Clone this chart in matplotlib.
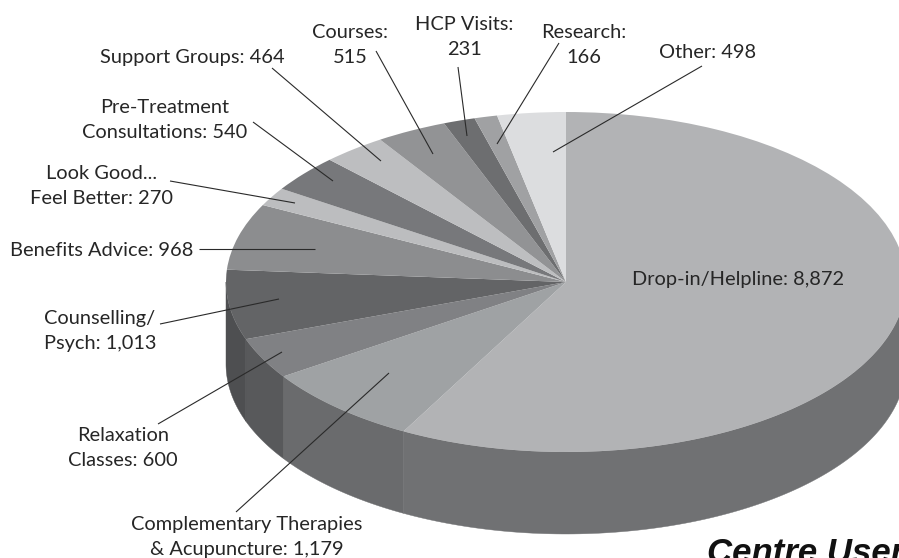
import numpy as np
import matplotlib
matplotlib.use('Agg')
import matplotlib.pyplot as plt

# Values going clockwise from 12 o'clock
names = ['Drop-in/Helpline', 'Complementary Therapies', 'Relaxation Classes', 'Counselling/Psych',
         'Benefits Advice', 'Look Good Feel Better', 'Pre-Treatment Consultations', 'Support Groups',
         'Courses', 'HCP Visits', 'Research', 'Other']
values = [8872, 1179, 600, 1013, 968, 270, 540, 464, 515, 231, 166, 498]
top_colors = ['#b2b3b5', '#9fa2a4', '#808184', '#636466', '#8c8d8f', '#bcbdbf',
              '#77787b', '#bdbec0', '#929395', '#6d6e70', '#a0a1a3', '#dcdddf']
wall_colors = ['#707173', '#6a6b6d', '#58595b', '#4e4f51', '#636466', '#636466',
               '#636466', '#636466', '#636466', '#636466', '#636466', '#636466']

W, H = 899, 558
cx, cy, rx, ry = 566, 282, 340, 170
depth = 82

fig = plt.figure(figsize=(W / 100, H / 100), dpi=100)
fig.patch.set_facecolor('white')

# Pie axes: squashed so the unit circle becomes the top ellipse
ax = fig.add_axes([0, 0, 1, 1])
drop = depth / ry
fracs = np.cumsum([0] + values) / sum(values)

# side walls, only the front half of the pie shows
for i in range(len(values)):
    a0 = max(fracs[i] * 2 * np.pi, np.pi / 2)
    a1 = min(fracs[i + 1] * 2 * np.pi, 3 * np.pi / 2)
    if a1 <= a0:
        continue
    t = np.linspace(a0, a1, 120)
    xs = np.sin(t)
    ys = np.cos(t)
    ax.fill(np.r_[xs, xs[::-1]], np.r_[ys, ys[::-1] - drop], color=wall_colors[i], lw=0.3, zorder=1)

wedges, _ = ax.pie(values, colors=top_colors, startangle=90, counterclock=False, radius=1,
                   wedgeprops={'linewidth': 0})
for w in wedges:
    w.set_zorder(2)
ax.set_aspect('auto')
ax.set_xlim(-cx / rx, (W - cx) / rx)
ax.set_ylim((cy - H) / ry, cy / ry)
ax.axis('off')

# Overlay in pixel coordinates for labels and leader lines
ov = fig.add_axes([0, 0, 1, 1])
ov.set_xlim(0, W)
ov.set_ylim(H, 0)
ov.axis('off')
ov.patch.set_alpha(0)

font = 'Lato'
fs = 14.4
labels = [
    ('Other: 498', 708, 53),
    ('Research:\n166', 584, 45),
    ('HCP Visits:\n231', 464, 37),
    ('Courses:\n515', 350, 45),
    ('Support Groups: 464', 192, 58),
    ('Pre-Treatment\nConsultations: 540', 165, 120),
    ('Look Good...\nFeel Better: 270', 102, 186),
    ('Benefits Advice: 968', 102, 250),
    ('Counselling/\nPsych: 1,013', 100, 331),
    ('Relaxation\nClasses: 600', 123, 448),
    ('Complementary Therapies\n& Acupuncture: 1,179', 247, 537),
    ('Drop-in/Helpline: 8,872', 738, 280),
]
for txt, x, y in labels:
    ov.text(x, y, txt, ha='center', va='center', ma='center',
            family=font, fontsize=fs, color='#262626', linespacing=1.6)

leaders = [
    ((702, 66), (553, 152)),
    ((559, 43), (497, 144)),
    ((458, 67), (467, 136)),
    ((376, 51), (433, 154)),
    ((272, 68), (381, 161)),
    ((253, 122), (333, 181)),
    ((170, 181), (295, 203)),
    ((199, 249), (315, 249)),
    ((160, 324), (279, 299)),
    ((158, 424), (282, 352)),
    ((236, 512), (389, 373)),
]
for a, b in leaders:
    ov.plot([a[0], b[0]], [a[1], b[1]], color='#2a2a2a', lw=0.8, solid_capstyle='butt')

ov.text(707, 563, 'Centre User', ha='left', va='baseline', family='Liberation Sans',
        fontsize=25, fontweight='bold', fontstyle='italic', color='#111111')

fig.savefig('out.png', dpi=100, facecolor='white')
